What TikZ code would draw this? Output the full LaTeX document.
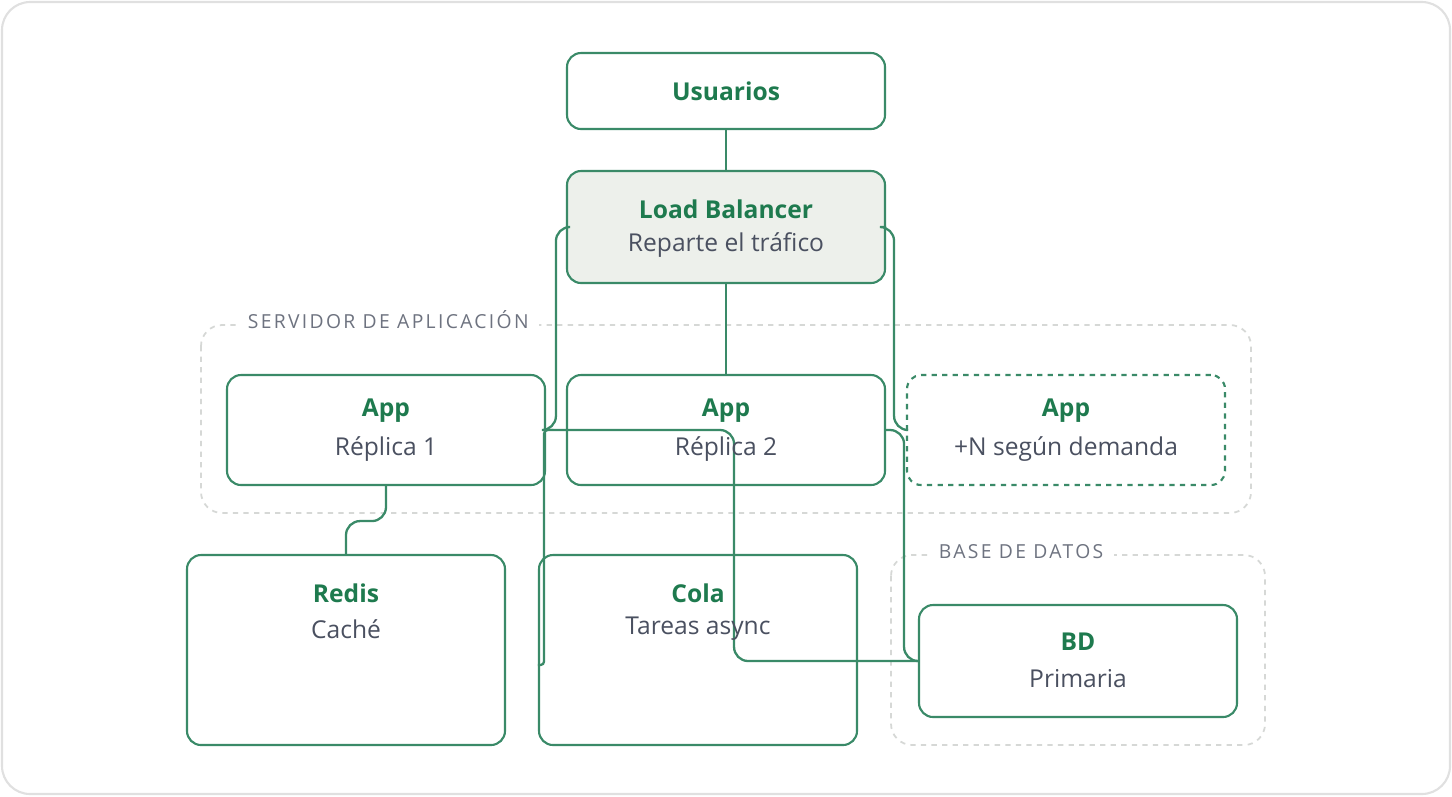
\documentclass[tikz,border=0pt]{standalone}
\usepackage{fontspec}
\setmainfont{Open Sans}
\usetikzlibrary{positioning}
\definecolor{edge}{HTML}{3A8A68}
\definecolor{ttl}{HTML}{1E7A4E}
\definecolor{sub}{HTML}{4A5060}
\definecolor{grp}{HTML}{D6D8D6}
\definecolor{lbfill}{HTML}{EDF0EB}
\tikzset{
  box/.style={draw=edge, line width=1.2pt, rounded corners=8pt, fill=white, inner sep=0pt},
  group/.style={draw=grp, dashed, line width=1pt, rounded corners=12pt},
  title/.style={text=ttl, font=\bfseries\fontsize{14}{16}\selectfont},
  subtitle/.style={text=sub, font=\fontsize{14}{16}\selectfont},
  grplabel/.style={fill=white, text=sub!80, inner xsep=6pt, font=\fontsize{11}{13}\selectfont\addfontfeature{LetterSpace=12}},
  link/.style={draw=edge, line width=1.3pt, rounded corners=8pt}
}
\begin{document}
\begin{tikzpicture}[x=0.02cm, y=-0.02cm]
\draw[draw=black!12, line width=1.2pt, rounded corners=16pt, fill=white] (2,2) rectangle (1450,794);
\useasboundingbox (0,0) rectangle (1452,796);
% groups
\draw[group] (201,325) rectangle (1251,513);
\node[grplabel, anchor=west] (appgrp) at (237,320) {SERVIDOR DE APLICACIÓN};
\draw[group] (891,555) rectangle (1265,745);
\node[grplabel, anchor=west] (dbgrp) at (928,552) {BASE DE DATOS};
% boxes
\node[box, minimum width=318*0.02cm, minimum height=76*0.02cm] (users) at (726,91) {};
\node[box, fill=lbfill, minimum width=318*0.02cm, minimum height=112*0.02cm] (lb) at (726,227) {};
\node[box, minimum width=318*0.02cm, minimum height=110*0.02cm] (app1) at (386,430) {};
\node[box, minimum width=318*0.02cm, minimum height=110*0.02cm] (app2) at (726,430) {};
\node[box, dashed, minimum width=318*0.02cm, minimum height=110*0.02cm] (app3) at (1066,430) {};
\node[box, minimum width=318*0.02cm, minimum height=190*0.02cm] (redis) at (346,650) {};
\node[box, minimum width=318*0.02cm, minimum height=190*0.02cm] (cola) at (698,650) {};
\node[box, minimum width=318*0.02cm, minimum height=112*0.02cm] (bd) at (1078,661) {};
% links
\draw[link] (users.south) -- (lb.north);
\draw[link] (lb.south) -- (app2.north);
\draw[link] (lb.west) -- ++(-10,0) |- (app1.east);
\draw[link] (lb.east) -- ++(8,0) |- (app3.west);
\draw[link] (app1.south) -- ++(0,35) -| (redis.north);
\draw[link, rounded corners=2pt] (app1.east) -- ++(-2,0) |- ([yshift=-0.3cm]cola.west);
\draw[link] (app1.east) -- ++(188,0) |- (bd.west);
\draw[link] (app2.east) -- ++(18,0) |- (bd.west);
% texts
\node[title] (userst) at (726,91) {Usuarios};
\node[title] (lbt) at (726,209) {Load Balancer};
\node[subtitle] (lbs) at (726,245) {Reparte el tráfico};
\foreach \n/\x/\s in {a/386/Réplica 1, b/726/Réplica 2, c/1066/+N según demanda}{
  \node[title] (app\n t) at (\x,411) {App};
  \node[subtitle] (app\n s) at (\x,449) {\s};
}
\node[title] (redist) at (346,593) {Redis};
\node[subtitle] (rediss) at (346,629) {Caché};
\node[title] (colat) at (698,593) {Cola};
\node[subtitle] (colas) at (698,629) {Tareas async};
\node[title] (bdt) at (1078,642) {BD};
\node[subtitle] (bds) at (1078,679) {Primaria};
\end{tikzpicture}
\end{document}
